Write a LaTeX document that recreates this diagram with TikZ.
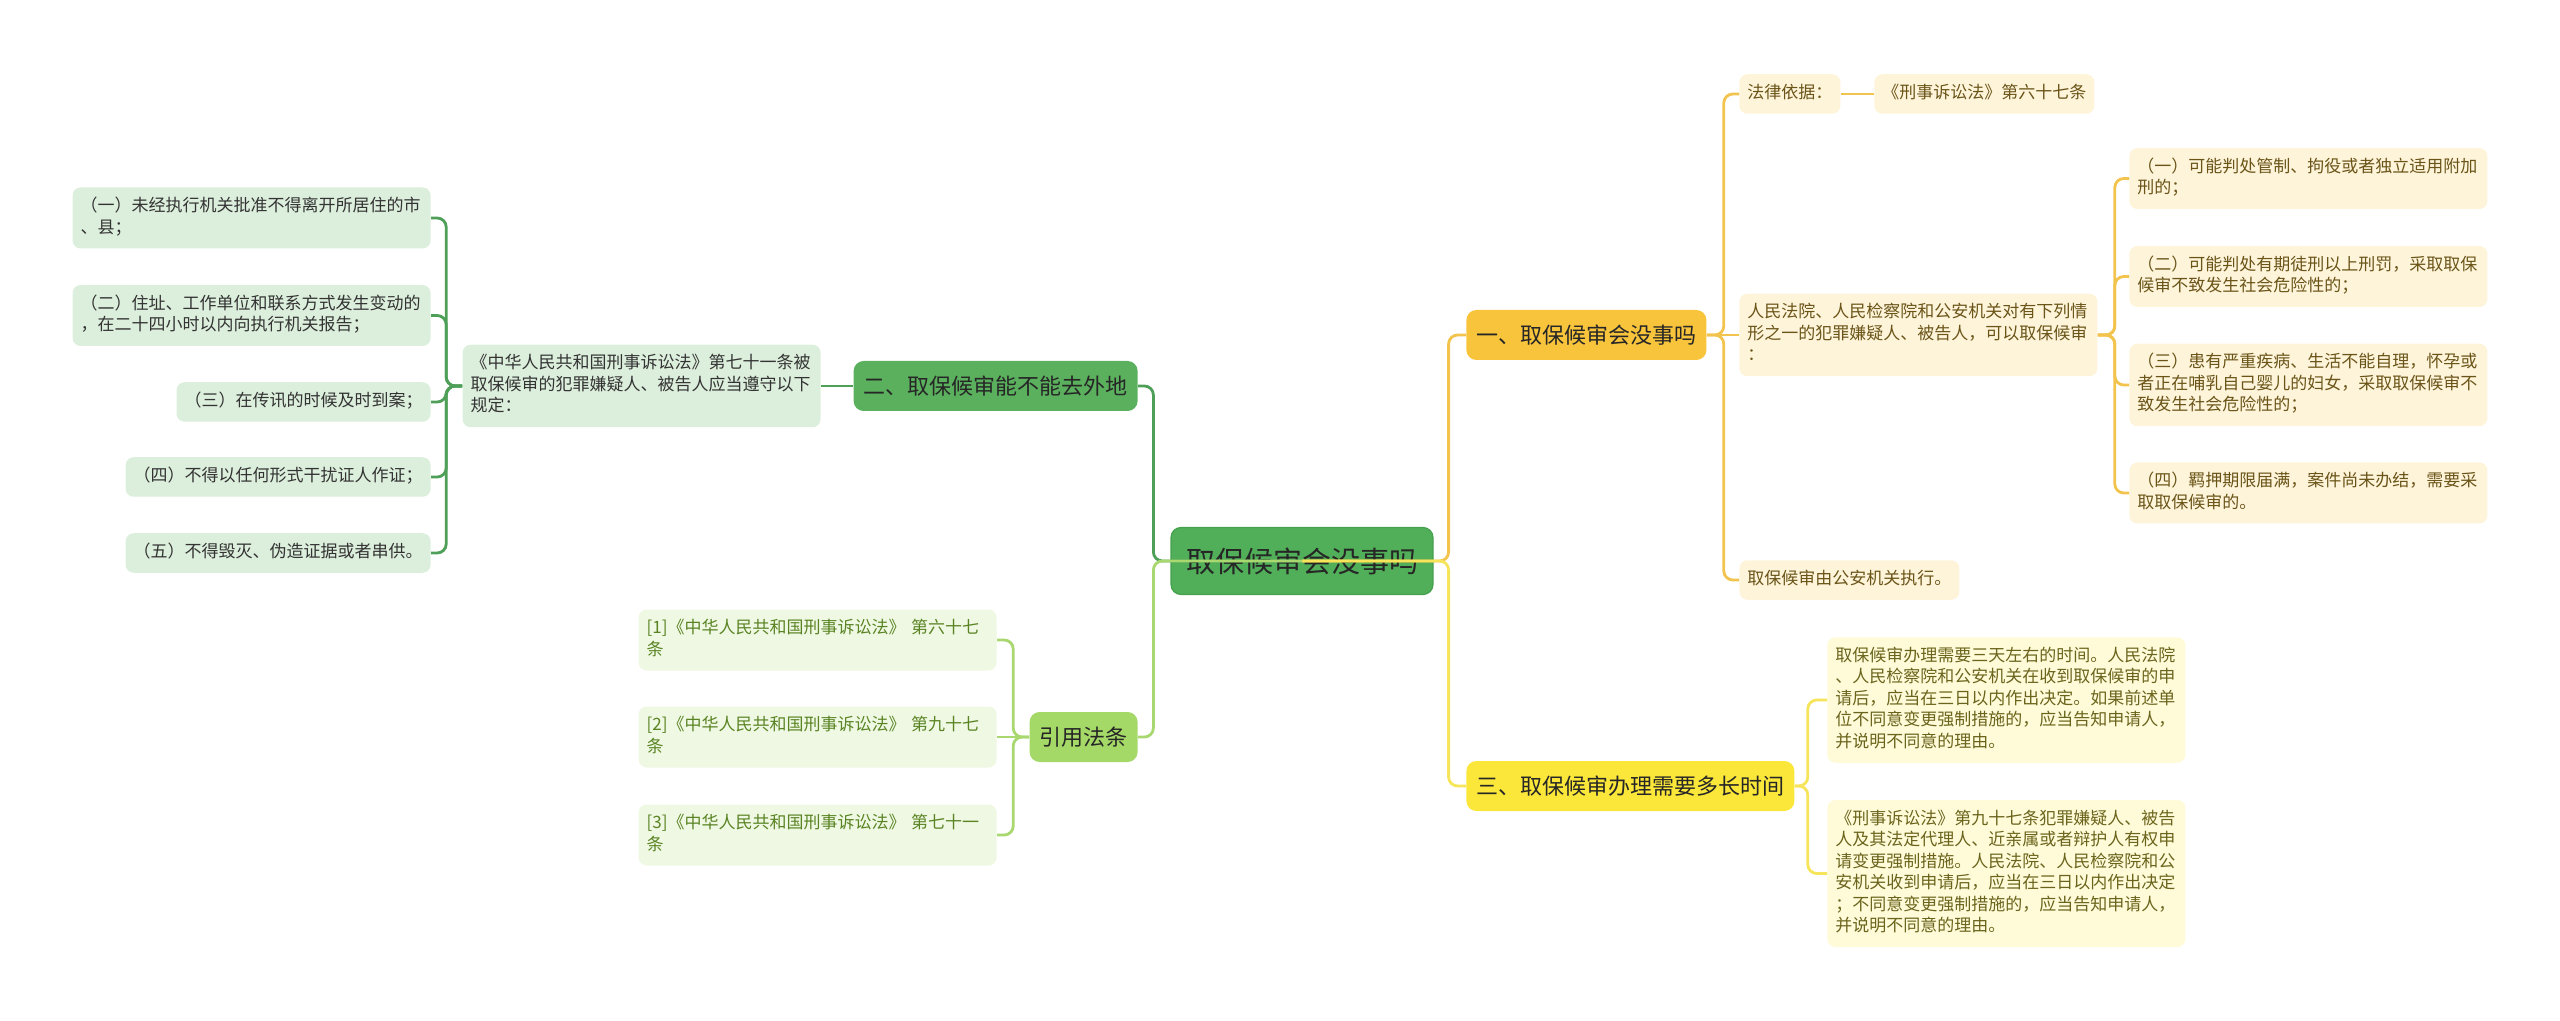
\documentclass[tikz,border=0pt]{standalone}
\usepackage{fontspec}
\setmainfont{Noto Sans CJK SC}
\usepackage{tikz}
\usetikzlibrary{positioning}
\definecolor{rootfill}{HTML}{50AF58}
\definecolor{rootedge}{HTML}{46A04E}
\definecolor{inkdark}{HTML}{262626}
\definecolor{goldfill}{HTML}{F8C43C}
\definecolor{goldline}{HTML}{F2C44E}
\definecolor{goldpale}{HTML}{FEF4DA}
\definecolor{goldink}{HTML}{6A5418}
\definecolor{lemonfill}{HTML}{FBE73A}
\definecolor{lemonline}{HTML}{F6E55A}
\definecolor{lemonpale}{HTML}{FFFBD9}
\definecolor{lemonink}{HTML}{6B641C}
\definecolor{greenfill}{HTML}{5BB05E}
\definecolor{greenline}{HTML}{4E9F58}
\definecolor{greenpale}{HTML}{DCEEDC}
\definecolor{greenink}{HTML}{333333}
\definecolor{limefill}{HTML}{A4D867}
\definecolor{limeline}{HTML}{A9D871}
\definecolor{limepale}{HTML}{EFF8E2}
\definecolor{limeink}{HTML}{5A8424}
\newcommand\leaffont{\fontsize{8.5pt}{10.75pt}\selectfont}
\newcommand\sectfont{\fontsize{11pt}{13pt}\selectfont}
\newcommand\rootfont{\fontsize{14.5pt}{17pt}\selectfont}
\tikzset{
  rootbox/.style={draw=rootedge, fill=rootfill, rounded corners=5pt, line width=0.6pt,
    minimum width=131pt, minimum height=33.5pt, font=\rootfont, text=inkdark},
  sectbox/.style={rounded corners=5pt, inner xsep=5pt, minimum height=25pt,
    font=\sectfont, text=inkdark},
  leaf/.style={rounded corners=4pt, inner xsep=4pt, inner ysep=4.5pt, align=left,
    font=\leaffont, execute at begin node=\strut, execute at end node=\strut},
  wide/.style={text width=171pt},
  goldleaf/.style={leaf, fill=goldpale, text=goldink},
  lemonleaf/.style={leaf, fill=lemonpale, text=lemonink},
  greenleaf/.style={leaf, fill=greenpale, text=greenink},
  limeleaf/.style={leaf, fill=limepale, text=limeink},
  link/.style={draw=#1, line width=1.4pt, rounded corners=4.5pt}
}

\begin{document}
\begin{tikzpicture}[x=0.5pt, y=-0.5pt]
\useasboundingbox (0,0) rectangle (2560,1021);

% centre and main branches
\node[rootbox] (root) at (1302,561) {取保候审会没事吗};
\node[sectbox, fill=goldfill, anchor=west] (s1) at (1466,335) {一、取保候审会没事吗};
\node[sectbox, fill=lemonfill, anchor=west] (s3) at (1466,786) {三、取保候审办理需要多长时间};
\node[sectbox, fill=greenfill, anchor=east] (s2) at (1138,386) {二、取保候审能不能去外地};
\node[sectbox, fill=limefill, anchor=east] (cite) at (1138,737) {引用法条};

% branch one
\node[goldleaf, anchor=west] (a1) at (1739,94) {法律依据：};
\node[goldleaf, anchor=west] (a1x) at (1874,94) {《刑事诉讼法》第六十七条};
\node[goldleaf, wide, anchor=west] (a2) at (1739,335) {人民法院、人民检察院和公安机关对有下列情\\形之一的犯罪嫌疑人、被告人，可以取保候审\\：};
\node[goldleaf, anchor=west] (a3) at (1739,580) {取保候审由公安机关执行。};
\node[goldleaf, wide, anchor=west] (b1) at (2129,178.5) {（一）可能判处管制、拘役或者独立适用附加\\刑的；};
\node[goldleaf, wide, anchor=west] (b2) at (2129,276.5) {（二）可能判处有期徒刑以上刑罚，采取取保\\候审不致发生社会危险性的；};
\node[goldleaf, wide, anchor=west] (b3) at (2129,385) {（三）患有严重疾病、生活不能自理，怀孕或\\者正在哺乳自己婴儿的妇女，采取取保候审不\\致发生社会危险性的；};
\node[goldleaf, wide, anchor=west] (b4) at (2129,493) {（四）羁押期限届满，案件尚未办结，需要采\\取取保候审的。};

% branch three
\node[lemonleaf, wide, anchor=west] (c1) at (1827,700) {取保候审办理需要三天左右的时间。人民法院\\、人民检察院和公安机关在收到取保候审的申\\请后，应当在三日以内作出决定。如果前述单\\位不同意变更强制措施的，应当告知申请人，\\并说明不同意的理由。};
\node[lemonleaf, wide, anchor=west] (c2) at (1827,873.5) {《刑事诉讼法》第九十七条犯罪嫌疑人、被告\\人及其法定代理人、近亲属或者辩护人有权申\\请变更强制措施。人民法院、人民检察院和公\\安机关收到申请后，应当在三日以内作出决定\\；不同意变更强制措施的，应当告知申请人，\\并说明不同意的理由。};

% branch two
\node[greenleaf, wide, anchor=east] (d0) at (821,386) {《中华人民共和国刑事诉讼法》第七十一条被\\取保候审的犯罪嫌疑人、被告人应当遵守以下\\规定：};
\node[greenleaf, wide, anchor=east] (d1) at (431,218) {（一）未经执行机关批准不得离开所居住的市\\、县；};
\node[greenleaf, wide, anchor=east] (d2) at (431,315.5) {（二）住址、工作单位和联系方式发生变动的\\，在二十四小时以内向执行机关报告；};
\node[greenleaf, anchor=east] (d3) at (431,402) {（三）在传讯的时候及时到案；};
\node[greenleaf, anchor=east] (d4) at (431,477) {（四）不得以任何形式干扰证人作证；};
\node[greenleaf, anchor=east] (d5) at (431,553) {（五）不得毁灭、伪造证据或者串供。};

% cited articles
\node[limeleaf, wide, anchor=east] (e1) at (997,640) {[1]《中华人民共和国刑事诉讼法》 第六十七\\条};
\node[limeleaf, wide, anchor=east] (e2) at (997,737) {[2]《中华人民共和国刑事诉讼法》 第九十七\\条};
\node[limeleaf, wide, anchor=east] (e3) at (997,835) {[3]《中华人民共和国刑事诉讼法》 第七十一\\条};

% connectors
\draw[link=goldline] (s1.east) -- ++(17,0) |- (a1.west);
\draw[link=goldline] (s1.east) -- (a2.west);
\draw[link=goldline] (s1.east) -- ++(17,0) |- (a3.west);
\draw[link=goldline] (a1.east) -- (a1x.west);
\draw[link=goldline] (a2.east) -- ++(17,0) |- (b1.west);
\draw[link=goldline] (a2.east) -- ++(17,0) |- (b2.west);
\draw[link=goldline] (a2.east) -- ++(17,0) |- (b3.west);
\draw[link=goldline] (a2.east) -- ++(17,0) |- (b4.west);
\draw[link=lemonline] (s3.east) -- ++(13,0) |- (c1.west);
\draw[link=lemonline] (s3.east) -- ++(13,0) |- (c2.west);
\draw[link=greenline] (s2.west) -- (d0.east);
\draw[link=greenline] (d0.west) -- ++(-16,0) |- (d1.east);
\draw[link=greenline] (d0.west) -- ++(-16,0) |- (d2.east);
\draw[link=greenline] (d0.west) -- ++(-16,0) |- (d3.east);
\draw[link=greenline] (d0.west) -- ++(-16,0) |- (d4.east);
\draw[link=greenline] (d0.west) -- ++(-16,0) |- (d5.east);
\draw[link=limeline] (cite.west) -- ++(-16,0) |- (e1.east);
\draw[link=limeline] (cite.west) -- (e2.east);
\draw[link=limeline] (cite.west) -- ++(-16,0) |- (e3.east);

% from the centre
\draw[link=goldline] (root.center) -- (root.east) -- ++(15,0) |- (s1.west);
\draw[link=lemonline] (root.center) -- (root.east) -- ++(15,0) |- (s3.west);
\draw[link=greenline] (root.center) -- (root.west) -- ++(-17,0) |- (s2.east);
\draw[link=limeline] (root.center) -- (root.west) -- ++(-17,0) |- (cite.east);
\end{tikzpicture}
\end{document}
